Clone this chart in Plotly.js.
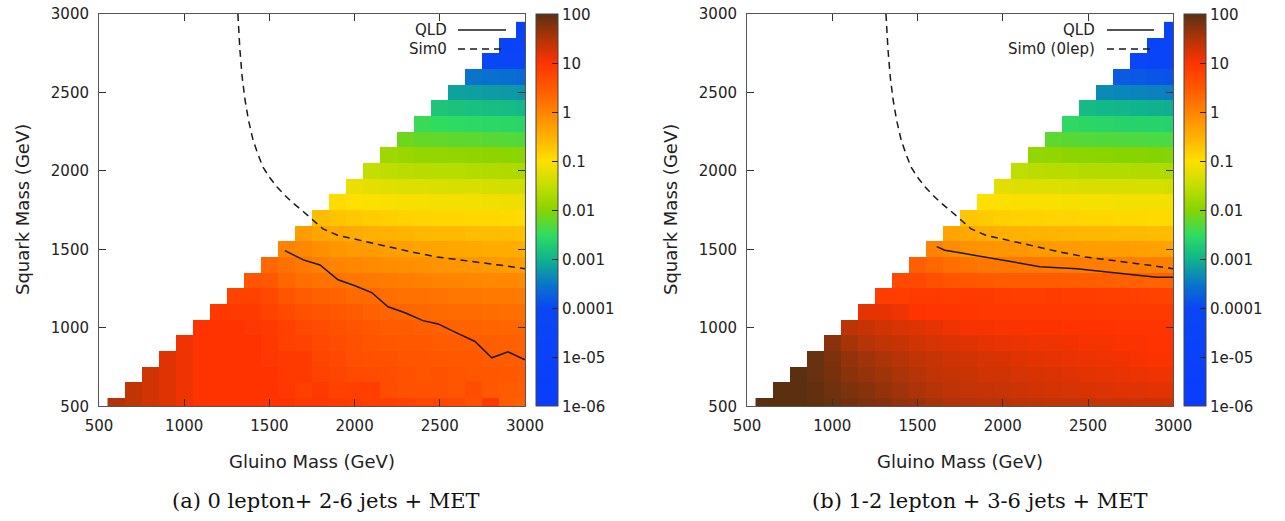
<!DOCTYPE html>
<html>
<head>
<meta charset="utf-8">
<script src="https://cdn.plot.ly/plotly-3.0.1.min.js"></script>
<style>
  html, body { margin: 0; padding: 0; background: #ffffff; }
  #chart { width: 1285px; height: 521px; }
</style>
</head>
<body>
<div id="chart"></div>
<script>
// ---------------- DATA ----------------
// Cell centres (GeV)
const gluinoMass = [600,700,800,900,1000,1100,1200,1300,1400,1500,1600,1700,1800,1900,2000,2100,2200,2300,2400,2500,2600,2700,2800,2900,3000];
const squarkMass = [500,600,700,800,900,1000,1100,1200,1300,1400,1500,1600,1700,1800,1900,2000,2100,2200,2300,2400,2500,2600,2700,2800,2900];

// log10 of the plotted quantity; row k = squark squarkMass[k], starting at gluino = squark + 100
const zeroLeptonLog10 = [
  [1.5,1.4,1.3,1.2,1.1,1.0,1.0,1.0,1.0,0.98,1.0,0.95,0.95,0.9,0.88,0.85,0.85,0.8,0.75,0.75,0.72,0.62,0.95,0.45,0.4],
  [1.4,1.3,1.2,1.1,1.0,1.0,1.0,1.0,1.0,0.95,0.85,0.9,0.8,0.85,0.85,0.65,0.6,0.6,0.6,0.55,0.65,0.5,0.45,0.45],
  [1.3,1.2,1.1,1.0,1.0,1.0,1.0,1.0,0.92,0.9,0.8,0.75,0.68,0.66,0.64,0.6,0.56,0.58,0.54,0.52,0.52,0.5,0.48],
  [1.2,1.1,1.0,1.0,1.0,1.0,0.95,0.9,0.9,0.75,0.7,0.62,0.6,0.58,0.56,0.55,0.52,0.5,0.5,0.47,0.46,0.44],
  [1.1,1.0,1.0,1.0,1.0,0.95,0.82,0.8,0.72,0.65,0.6,0.55,0.52,0.5,0.5,0.47,0.45,0.44,0.43,0.42,0.4],
  [1.0,1.0,1.0,0.95,0.9,0.82,0.72,0.66,0.6,0.56,0.5,0.46,0.45,0.42,0.4,0.38,0.37,0.36,0.35,0.34],
  [0.95,0.9,0.9,0.8,0.68,0.6,0.55,0.5,0.46,0.4,0.36,0.35,0.32,0.3,0.28,0.28,0.27,0.25,0.24],
  [0.8,0.8,0.7,0.55,0.45,0.4,0.36,0.3,0.28,0.25,0.22,0.2,0.18,0.16,0.15,0.13,0.12,0.1],
  [0.55,0.5,0.35,0.25,0.22,0.2,0.15,0.12,0.1,0.08,0.05,0.02,0.0,-0.02,-0.04,-0.05,-0.07],
  [0.32,0.22,0.12,0.05,0.0,-0.04,-0.08,-0.1,-0.12,-0.15,-0.17,-0.2,-0.22,-0.25,-0.28,-0.3],
  [0.02,-0.05,-0.12,-0.2,-0.25,-0.28,-0.3,-0.32,-0.35,-0.38,-0.4,-0.42,-0.44,-0.45,-0.47],
  [-0.28,-0.36,-0.42,-0.46,-0.5,-0.52,-0.55,-0.57,-0.6,-0.6,-0.62,-0.64,-0.65,-0.67],
  [-0.62,-0.7,-0.75,-0.8,-0.82,-0.85,-0.88,-0.9,-0.9,-0.92,-0.92,-0.94,-0.95],
  [-0.96,-1.0,-1.03,-1.05,-1.07,-1.08,-1.1,-1.1,-1.12,-1.13,-1.14,-1.15],
  [-1.18,-1.24,-1.27,-1.3,-1.3,-1.32,-1.34,-1.35,-1.37,-1.38,-1.4],
  [-1.5,-1.55,-1.58,-1.6,-1.62,-1.62,-1.65,-1.66,-1.68,-1.7],
  [-1.82,-1.86,-1.88,-1.9,-1.92,-1.93,-1.95,-1.96,-1.98],
  [-2.15,-2.2,-2.22,-2.24,-2.25,-2.28,-2.3,-2.31],
  [-2.45,-2.5,-2.52,-2.55,-2.56,-2.58,-2.6],
  [-2.8,-2.82,-2.85,-2.88,-2.9,-2.95],
  [-3.15,-3.17,-3.2,-3.22,-3.25],
  [-3.55,-3.58,-3.6,-3.65],
  [-4.1,-4.15,-4.2],
  [-4.5,-4.55],
  [-4.8]
];

const oneTwoLeptonLog10 = [
  [2.1,2.05,2.0,1.96,1.92,1.85,1.8,1.75,1.68,1.62,1.56,1.5,1.48,1.46,1.45,1.43,1.42,1.4,1.4,1.38,1.37,1.36,1.35,1.34,1.33],
  [2.05,2.0,1.95,1.88,1.8,1.74,1.66,1.6,1.52,1.46,1.42,1.38,1.36,1.35,1.32,1.3,1.28,1.26,1.24,1.22,1.2,1.2,1.18,1.18],
  [2.0,1.92,1.82,1.72,1.65,1.6,1.52,1.46,1.4,1.36,1.34,1.3,1.3,1.26,1.24,1.22,1.2,1.18,1.16,1.14,1.12,1.1,1.1],
  [1.92,1.8,1.66,1.6,1.52,1.46,1.4,1.36,1.32,1.3,1.26,1.24,1.2,1.18,1.16,1.14,1.12,1.1,1.08,1.05,1.03,1.02],
  [1.72,1.56,1.46,1.4,1.36,1.3,1.26,1.22,1.2,1.16,1.14,1.12,1.1,1.1,1.08,1.06,1.05,1.04,1.02,1.0,1.0],
  [1.42,1.36,1.3,1.25,1.2,1.16,1.1,1.06,1.05,1.04,1.03,1.02,1.02,1.0,1.0,1.0,0.98,0.98,0.97,0.97],
  [1.16,1.15,1.1,1.0,0.98,0.97,0.96,0.95,0.95,0.95,0.94,0.94,0.93,0.93,0.92,0.92,0.91,0.9,0.9],
  [0.86,0.86,0.9,0.9,0.88,0.92,0.9,0.86,0.85,0.85,0.88,0.87,0.86,0.85,0.84,0.82,0.8,0.8],
  [0.7,0.72,0.62,0.55,0.5,0.48,0.47,0.46,0.45,0.45,0.44,0.43,0.42,0.4,0.4,0.38,0.38],
  [0.42,0.32,0.25,0.18,0.15,0.14,0.12,0.12,0.1,0.1,0.08,0.07,0.06,0.05,0.05,0.04],
  [0.02,-0.08,-0.15,-0.18,-0.2,-0.22,-0.24,-0.25,-0.26,-0.28,-0.3,-0.3,-0.32,-0.33,-0.35],
  [-0.35,-0.42,-0.48,-0.5,-0.52,-0.54,-0.55,-0.56,-0.57,-0.58,-0.6,-0.6,-0.62,-0.62],
  [-0.72,-0.78,-0.82,-0.85,-0.86,-0.88,-0.88,-0.9,-0.9,-0.92,-0.92,-0.94,-0.94],
  [-1.0,-1.02,-1.04,-1.05,-1.06,-1.07,-1.08,-1.08,-1.09,-1.1,-1.1,-1.1],
  [-1.25,-1.28,-1.3,-1.3,-1.32,-1.33,-1.34,-1.35,-1.36,-1.36,-1.38],
  [-1.55,-1.58,-1.6,-1.62,-1.63,-1.64,-1.65,-1.66,-1.67,-1.68],
  [-1.9,-1.92,-1.95,-1.97,-1.98,-2.0,-2.0,-2.02,-2.04],
  [-2.25,-2.28,-2.3,-2.32,-2.33,-2.34,-2.35,-2.36],
  [-2.55,-2.58,-2.6,-2.62,-2.63,-2.64,-2.65],
  [-2.92,-2.95,-2.97,-3.0,-3.02,-3.05],
  [-3.35,-3.38,-3.4,-3.42,-3.45],
  [-3.8,-3.82,-3.85,-3.88],
  [-4.3,-4.35,-4.4],
  [-4.6,-4.65],
  [-4.9]
];

// Exclusion curves (gluino, squark) in GeV
const qldZeroLepGluino = [1591,1699,1797,1903,2002,2100,2196,2296,2401,2490,2599,2707,2805,2900,3000];
const qldZeroLepSquark = [1492,1433,1401,1306,1268,1225,1134,1096,1046,1025,968,913,809,847,796];
const sim0Gluino = [1315,1320,1327,1340,1357,1378,1404,1430,1462,1500,1545,1590,1638,1700,1756,1815,1900,2014,2100,2225,2350,2484,2677,2850,3000];
const sim0Squark = [3000,2900,2771,2600,2452,2320,2197,2115,2025,1960,1898,1845,1796,1740,1688,1630,1590,1561,1540,1510,1480,1452,1427,1400,1376];
const qldOneTwoLepGluino = [1613,1660,1750,1827,1900,1984,2111,2218,2434,2688,2903,3000];
const qldOneTwoLepSquark = [1518,1495,1478,1463,1448,1432,1408,1390,1376,1348,1323,1323];

const axisTicks = [500,1000,1500,2000,2500,3000];
const colorTickVals = [-6,-5,-4,-3,-2,-1,0,1,2];
const colorTickText = ['1e-06','1e-05','0.0001','0.001','0.01','0.1','1','10','100'];

const captionA = '(a) 0 lepton+ 2-6 jets + MET';
const captionB = '(b) 1-2 lepton + 3-6 jets + MET';
const legendA = ['QLD', 'Sim0'];
const legendB = ['QLD', 'Sim0 (0lep)'];

// ---------------- STYLE ----------------
const W = 1285, H = 521;
const px = v => v / W;
const py = v => 1 - v / H;

const colorscale = [
  [0.0,    '#0a3cff'],
  [0.25,   '#0a46f5'],
  [0.3125, '#0a78c8'],
  [0.375,  '#10b48c'],
  [0.4375, '#30dc60'],
  [0.5,    '#88d400'],
  [0.5625, '#c4de00'],
  [0.625,  '#ffe000'],
  [0.6875, '#ffb000'],
  [0.75,   '#ff8400'],
  [0.8125, '#ff5800'],
  [0.875,  '#ff3300'],
  [0.9375, '#b03408'],
  [1.0,    '#5a3010']
];

function buildZ(rows) {
  return rows.map((vals, k) => {
    const pad = new Array(gluinoMass.length - vals.length).fill(null);
    return pad.concat(vals);
  });
}

const sansFont = 'DejaVu Sans, Verdana, sans-serif';
const tickFont = { family: sansFont, size: 15, color: '#222' };

function colorbar(leftPx) {
  return {
    x: px(leftPx), xanchor: 'left', xpad: 0,
    y: py(406.3), yanchor: 'bottom', ypad: 0,
    len: 392, lenmode: 'pixels',
    thickness: 22, thicknessmode: 'pixels',
    outlinewidth: 1, outlinecolor: '#444',
    tickmode: 'array', tickvals: colorTickVals, ticktext: colorTickText,
    ticks: 'inside', ticklen: 6, tickwidth: 1, tickcolor: '#222',
    tickfont: tickFont
  };
}

function heat(rows, xa, ya, cbLeft) {
  return {
    type: 'heatmap', x: gluinoMass, y: squarkMass, z: buildZ(rows),
    xaxis: xa, yaxis: ya,
    colorscale: colorscale, zmin: -6, zmax: 2, zsmooth: false,
    colorbar: colorbar(cbLeft), showscale: true, hoverongaps: false
  };
}

function curve(xs, ys, xa, ya, dash) {
  return {
    type: 'scatter', mode: 'lines', x: xs, y: ys, xaxis: xa, yaxis: ya,
    line: { color: '#1a1a1a', width: 1.5, dash: dash },
    showlegend: false, hoverinfo: 'skip'
  };
}

const dashStyle = '7px,5px';

const data = [
  heat(zeroLeptonLog10, 'x', 'y', 536),
  heat(oneTwoLeptonLog10, 'x2', 'y2', 1184),
  curve(qldZeroLepGluino, qldZeroLepSquark, 'x', 'y', 'solid'),
  curve(sim0Gluino, sim0Squark, 'x', 'y', dashStyle),
  curve(qldOneTwoLepGluino, qldOneTwoLepSquark, 'x2', 'y2', 'solid'),
  curve(sim0Gluino, sim0Squark, 'x2', 'y2', dashStyle)
];

function axis(domain, anchor) {
  return {
    domain: domain, anchor: anchor, range: [500, 3000],
    tickmode: 'array', tickvals: axisTicks,
    ticks: 'inside', ticklen: 7, tickwidth: 1, tickcolor: '#333',
    showline: true, linecolor: '#555', linewidth: 1, mirror: 'ticks',
    showgrid: false, zeroline: false, tickfont: tickFont,
    ticklabelstandoff: 6, fixedrange: true
  };
}

const yDom = [py(406.3), py(14)];
const titleFont = { family: sansFont, size: 18, color: '#222' };
const capFont = { family: 'DejaVu Serif, Liberation Serif, serif', size: 21, color: '#111' };
const legFont = { family: sansFont, size: 15, color: '#222' };

function ann(text, x, y, font, extra) {
  return Object.assign({ text: text, x: x, y: y, xref: 'paper', yref: 'paper',
    showarrow: false, font: font }, extra || {});
}

const annotations = [
  ann('Gluino Mass (GeV)', px(312), py(461), titleFont, { xanchor: 'center', yanchor: 'middle' }),
  ann('Gluino Mass (GeV)', px(960), py(461), titleFont, { xanchor: 'center', yanchor: 'middle' }),
  ann('Squark Mass (GeV)', px(22), py(210), titleFont, { xanchor: 'center', yanchor: 'middle', textangle: -90 }),
  ann('Squark Mass (GeV)', px(670), py(210), titleFont, { xanchor: 'center', yanchor: 'middle', textangle: -90 }),
  ann(captionA, px(326), py(501), capFont, { xanchor: 'center', yanchor: 'middle' }),
  ann(captionB, px(980), py(501), capFont, { xanchor: 'center', yanchor: 'middle' }),
  ann(legendA[0], px(449), py(30), legFont, { xanchor: 'right', yanchor: 'middle' }),
  ann(legendA[1], px(449), py(49), legFont, { xanchor: 'right', yanchor: 'middle' }),
  ann(legendB[0], px(1097), py(30), legFont, { xanchor: 'right', yanchor: 'middle' }),
  ann(legendB[1], px(1097), py(49), legFont, { xanchor: 'right', yanchor: 'middle' })
];

function legLine(x0, x1, yv, dash) {
  return { type: 'line', xref: 'paper', yref: 'paper', x0: px(x0), x1: px(x1), y0: py(yv), y1: py(yv),
    line: { color: '#1a1a1a', width: 1.5, dash: dash } };
}

const shapes = [
  legLine(458, 506, 30, 'solid'),
  legLine(458, 503, 49, dashStyle),
  legLine(1107, 1154, 30, 'solid'),
  legLine(1107, 1151, 49, dashStyle)
];

const layout = {
  width: W, height: H,
  margin: { l: 0, r: 0, t: 0, b: 0, pad: 0 },
  paper_bgcolor: '#ffffff', plot_bgcolor: '#ffffff',
  showlegend: false,
  xaxis: axis([px(99), px(525)], 'y'),
  yaxis: axis(yDom, 'x'),
  xaxis2: axis([px(747), px(1173.3)], 'y2'),
  yaxis2: axis(yDom, 'x2'),
  annotations: annotations,
  shapes: shapes
};

Plotly.newPlot('chart', data, layout, { displayModeBar: false, staticPlot: true });
</script>
</body>
</html>
